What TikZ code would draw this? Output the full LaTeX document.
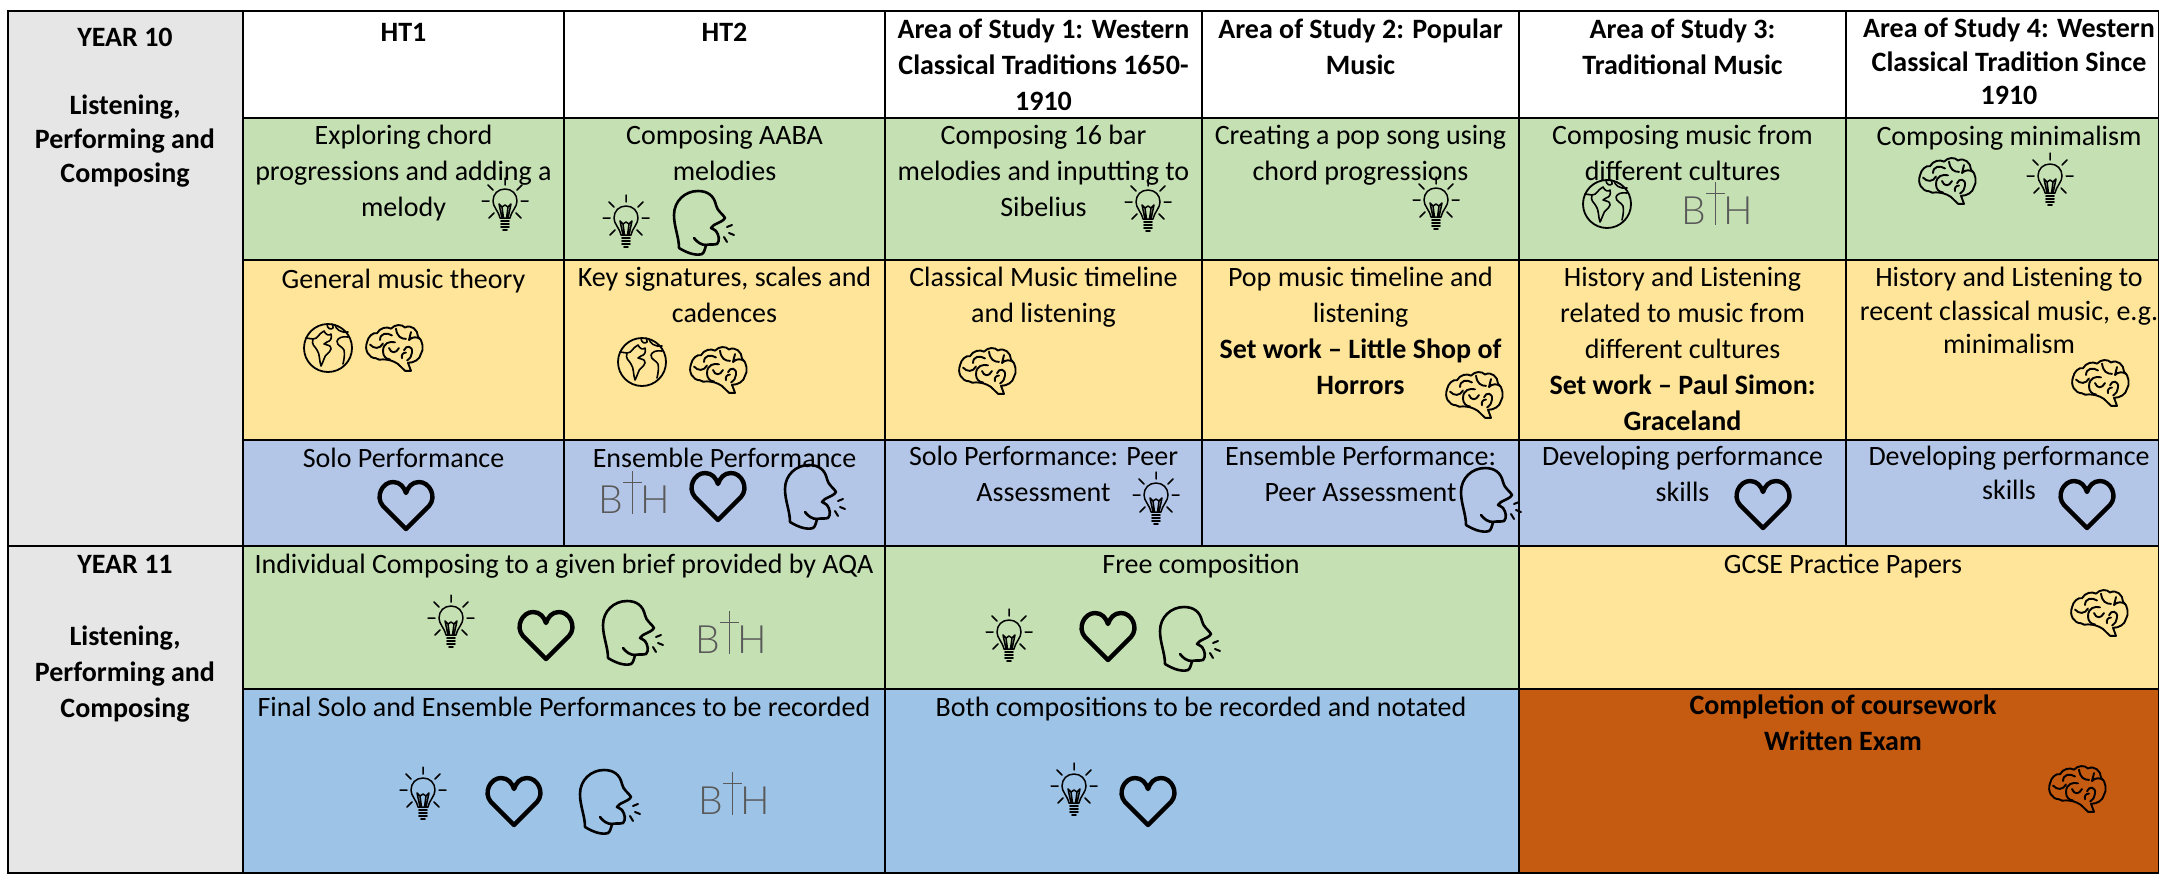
\documentclass[tikz,border=0pt]{standalone}
\usepackage{fontspec}
\setmainfont{Carlito}
\newfontfamily\bthfont{Lato Light}
\definecolor{gridgray}{HTML}{E7E6E6}
\definecolor{cellgreen}{HTML}{C5E0B3}
\definecolor{cellyellow}{HTML}{FFE599}
\definecolor{cellblue}{HTML}{B4C6E7}
\definecolor{cellsky}{HTML}{9DC3E6}
\definecolor{cellorange}{HTML}{C55A11}
\definecolor{logogray}{HTML}{595959}
\tikzset{
  cellbox/.style={draw=black,line width=1.8pt},
  txt/.style={anchor=north,inner sep=0pt,align=center,font=\fontsize{28}{36}\selectfont,execute at begin node={\rule{0pt}{21pt}}},
  txtb/.style={txt,font=\fontsize{28}{36}\selectfont\bfseries},
  tight/.style={txt,font=\fontsize{28}{33.5}\selectfont},
  tightb/.style={txt,font=\fontsize{28}{33.5}\selectfont\bfseries},
  rule/.style={draw=black,line width=2.8pt},
  icon/.style={draw=black,line width=1.5pt,line cap=round,line join=round},
  bulb/.pic={
    \draw[icon] (0,-27)--(0,-20) (-23,-4)--(-16,-4) (16,-4)--(23,-4)
      (-17,-20)--(-12,-15) (17,-20)--(12,-15) (-16,13)--(-11,8) (16,13)--(11,8);
    \draw[icon] (-5,13) .. controls (-7,5) and (-12,2) .. (-12,-4)
      .. controls (-12,-11) and (-7,-16) .. (0,-16)
      .. controls (7,-16) and (12,-11) .. (12,-4)
      .. controls (12,2) and (7,5) .. (5,13) -- cycle;
    \draw[icon] (-6,-1)--(-3,2)--(0,0)--(3,2)--(6,-1)--(3,13) (-6,-1)--(-3,13) (-3,2)--(-1.5,13) (3,2)--(1.5,13);
    \draw[icon,line width=1.8pt] (-4,16)--(4,16) (-4,19)--(4,19) (-4,22)--(4,22) (-2,25)--(2,25);
  },
  heartshape/.pic={
    \draw[icon,line width=4.4pt] (0,24) -- (-23,1) .. controls (-31,-8) and (-24,-23) .. (-13,-23)
      .. controls (-6,-23) and (-2,-18) .. (0,-12)
      .. controls (2,-18) and (6,-23) .. (13,-23)
      .. controls (24,-23) and (31,-8) .. (23,1) -- cycle;
  },
  headshape/.pic={
    \draw[icon,line width=2.6pt] (-26,25) .. controls (-26,14) and (-31,4) .. (-31,-8)
      .. controls (-31,-22) and (-20,-32) .. (-7,-32)
      .. controls (3,-32) and (9,-27) .. (11,-18)
      .. controls (12,-12) and (18,-9) .. (20,-5)
      .. controls (18,-2) and (15,-1) .. (13,0) .. controls (10,1) and (7,3) .. (6,5)
      .. controls (8,6) and (10,7) .. (11,8) .. controls (14,12) and (15,18) .. (12,21)
      .. controls (8,22) and (4,21) .. (1,22) .. controls (0,26) and (-1,30) .. (-3,31)
      .. controls (-9,33) and (-18,30) .. (-26,25);
    \draw[icon,line width=2.6pt] (-11,15) .. controls (-8,19) and (-4,22) .. (1,22);
    \draw[icon,line width=2pt] (22,4)--(27,2) (24,10)--(29,12) (19,14)--(22,19);
  },
  globeshape/.pic={
    \draw[icon,line width=1.8pt] (0,0) circle [radius=24];
    \draw[icon,line width=1.6pt] (-22,-10)--(-15,-9)
      (-15,-9) .. controls (-10,-9) and (-10,-14) .. (-4,-17) .. controls (-2,-13) and (1,-12) .. (3,-14)
      .. controls (4,-10) and (3,-7) .. (-1,-6) -- (-4,-4) .. controls (-1,-2) and (3,-4) .. (3,1)
      .. controls (2,5) and (-3,6) .. (-4,11) .. controls (-5,14) and (-6,16) .. (-7,18)
      .. controls (-9,12) and (-8,6) .. (-11,2) .. controls (-13,-2) and (-17,-3) .. (-15,-9);
    \draw[icon,line width=1.6pt] (-1,-24) .. controls (-1,-19) and (3,-18) .. (5,-20) .. controls (5,-22) and (5,-23) .. (4,-24)
      (7,-23) .. controls (8,-19) and (12,-15) .. (20,-16)
      (20,-11) .. controls (14,-12) and (10,-10) .. (9,-7) .. controls (9,-2) and (14,-2) .. (16,2)
      .. controls (17,6) and (16,12) .. (15,16);
  },
  brainshape/.pic={
    \draw[icon,line width=1.9pt,yscale=1.14] (4,14) .. controls (-1,11) and (-6,10) .. (-11,10) .. controls (-14,11) and (-16,10) .. (-18,9)
      .. controls (-25,9) and (-30,2) .. (-27,-5)
      .. controls (-26,-10) and (-21,-14) .. (-17,-13)
      .. controls (-14,-18) and (-7,-19) .. (-3,-17)
      .. controls (1,-21) and (8,-21) .. (11,-18)
      .. controls (17,-21) and (24,-16) .. (24,-10)
      .. controls (29,-7) and (30,2) .. (27,5)
      .. controls (26,10) and (20,13) .. (14,13)
      -- (17,20) -- (11,20) -- cycle;
    \draw[icon,line width=1.9pt,yscale=1.14] (-24,-3) .. controls (-20,1) and (-14,1) .. (-11,-4)
      (-14,-7) .. controls (-14,-13) and (-7,-14) .. (-2,-11)
      (2,-17) .. controls (3,-10) and (7,-8) .. (12,-8)
      (-11,3) .. controls (-11,-5) and (-4,-6) .. (1,-5)
      (-5,0) .. controls (-3,5) and (2,5) .. (5,0)
      (-11,3) .. controls (-11,7) and (-8,10) .. (-4,10)
      (10,2) .. controls (12,-3) and (19,-2) .. (18,4) .. controls (18,7) and (16,9) .. (13,11)
      (8,9) .. controls (7,6) and (9,4) .. (12,4)
      (15,-7) .. controls (18,-10) and (23,-10) .. (26,-8)
      (17,-14) -- (15,-7);
  },
  bthlogo/.pic={
    \node[inner sep=0pt,text=logogray,font=\fontsize{39}{39}\bthfont] (b) at (-22,7) {B};
    \node[inner sep=0pt,text=logogray,font=\fontsize{39}{39}\bthfont] (h) at (22,7) {H};
    \draw[logogray,line width=1pt] (-1,-22)--(-1,21) (-10,-11)--(9,-11);
  },
}
\newcommand{\cellrect}[5]{\path[cellbox,fill=#5] (#1,#2) rectangle (#3,#4);}
\begin{document}
\begin{tikzpicture}[x=1pt,y=-1pt]
\useasboundingbox (0,0) rectangle (2159,873);
\fill[white] (0,0) rectangle (2159,873);
% ---- side column
\cellrect{8}{11}{243}{546}{gridgray}
\cellrect{8}{546}{243}{873}{gridgray}
% ---- year 10 grid
\foreach \xa/\xb in {243/564,564/885,885/1202,1202/1519,1519/1846,1846/2159}{
  \cellrect{\xa}{11}{\xb}{118}{white}
  \cellrect{\xa}{118}{\xb}{260}{cellgreen}
  \cellrect{\xa}{260}{\xb}{440}{cellyellow}
  \cellrect{\xa}{440}{\xb}{546}{cellblue}
}
% ---- year 11 grid
\cellrect{243}{546}{885}{689}{cellgreen}
\cellrect{885}{546}{1519}{689}{cellgreen}
\cellrect{1519}{546}{2159}{689}{cellyellow}
\cellrect{243}{689}{885}{873}{cellsky}
\cellrect{885}{689}{1519}{873}{cellsky}
\cellrect{1519}{689}{2159}{873}{cellorange}
\draw[rule] (8,11)--(2159,11) (243,118)--(2159,118) (243,260)--(2159,260) (243,440)--(2159,440) (8,546)--(2159,546) (243,689)--(2159,689);
% ---- side labels
\node[txtb,font=\fontsize{28}{34}\selectfont\bfseries] (y10) at (125,28) {YEAR 10\\\rule{0pt}{1pt}\\Listening,\\Performing and\\Composing};
\node[txtb] (y11) at (125,555) {YEAR 11\\\rule{0pt}{1pt}\\Listening,\\Performing and\\Composing};
% ---- headers
\node[txtb] (h1) at (403.5,20) {HT1};
\node[txtb] (h2) at (724.5,20) {HT2};
\node[txtb] (h3) at (1043.5,19) {Area of Study 1: Western\\Classical Traditions 1650-\\1910};
\node[txtb] (h4) at (1360.5,19) {Area of Study 2: Popular\\Music};
\node[txtb] (h5) at (1682.5,19) {Area of Study 3:\\Traditional Music};
\node[tightb] (h6) at (2009,18) {Area of Study 4: Western\\Classical Tradition Since\\1910};
% ---- green row
\node[txt] (g1) at (403.5,125) {Exploring chord\\progressions and adding a\\melody};
\node[txt] (g2) at (724.5,125) {Composing AABA\\melodies};
\node[txt] (g3) at (1043.5,125) {Composing 16 bar\\melodies and inputting to\\Sibelius};
\node[txt] (g4) at (1360.5,125) {Creating a pop song using\\chord progressions};
\node[txt] (g5) at (1682.5,125) {Composing music from\\different cultures};
\node[txt] (g6) at (2009,124) {Composing minimalism};
% ---- yellow row
\node[txt] (m1) at (403.5,267) {General music theory};
\node[txt] (m2) at (724.5,267) {Key signatures, scales and\\cadences};
\node[txt] (m3) at (1043.5,267) {Classical Music timeline\\and listening};
\node[txt] (m4) at (1360.5,267) {Pop music timeline and\\listening\\\textbf{Set work -- Little Shop of}\\\textbf{Horrors}};
\node[txt] (m5) at (1682.5,267) {History and Listening\\related to music from\\different cultures\\\textbf{Set work -- Paul Simon:}\\\textbf{Graceland}};
\node[tight] (m6) at (2009,267) {History and Listening to\\recent classical music, e.g.\\minimalism};
% ---- blue row
\node[txt] (b1) at (403.5,446) {Solo Performance};
\node[txt] (b2) at (724.5,446) {Ensemble Performance};
\node[txt] (b3) at (1043.5,446) {Solo Performance: Peer\\Assessment};
\node[txt] (b4) at (1360.5,446) {Ensemble Performance:\\Peer Assessment};
\node[txt] (b5) at (1682.5,446) {Developing performance\\skills};
\node[tight] (b6) at (2009,446) {Developing performance\\skills};
% ---- year 11
\node[txt] (c1) at (564,552) {Individual Composing to a given brief provided by AQA};
\node[txt] (c2) at (1201,552) {Free composition};
\node[txt] (c3) at (1843,552) {GCSE Practice Papers};
\node[txt] (r1) at (564,695) {Final Solo and Ensemble Performances to be recorded};
\node[txt] (r2) at (1201,695) {Both compositions to be recorded and notated};
\node[txtb] (r3) at (1843,695) {Completion of coursework\\Written Exam};
% ---- icons
\pic (ib1) at (505,205) {bulb};
\pic (ib2) at (626,222) {bulb};
\pic (ib3) at (1148,206) {bulb};
\pic (ib4) at (1436,204) {bulb};
\pic (ib5) at (2050,180) {bulb};
\pic (ib6) at (1156,499) {bulb};
\pic (ib7) at (451,622) {bulb};
\pic (ib8) at (1009,636) {bulb};
\pic (ib9) at (423,794) {bulb};
\pic (ib10) at (1074,790) {bulb};
\pic (ih1) at (406,505) {heartshape};
\pic (ih2) at (718,496) {heartshape};
\pic (ih3) at (1763,504) {heartshape};
\pic (ih4) at (2087,504) {heartshape};
\pic (ih5) at (546,635) {heartshape};
\pic (ih6) at (1108,636) {heartshape};
\pic (ih7) at (514,801) {heartshape};
\pic (ih8) at (1148,801) {heartshape};
\pic (is1) at (705,223) {headshape};
\pic (is2) at (816,497) {headshape};
\pic (is3) at (1492,500) {headshape};
\pic (is4) at (634,633) {headshape};
\pic (is5) at (1191,639) {headshape};
\pic (is6) at (611,802) {headshape};
\pic (ig1) at (328,348) {globeshape};
\pic (ig2) at (642,362) {globeshape};
\pic (ig3) at (1607,204) {globeshape};
\pic (ir1) at (394,348) {brainshape};
\pic (ir2) at (718,370) {brainshape};
\pic (ir3) at (987,371) {brainshape};
\pic (ir4) at (1474,395) {brainshape};
\pic (ir5) at (1947,181) {brainshape};
\pic (ir6) at (2100,383) {brainshape};
\pic (ir7) at (2099,613) {brainshape};
\pic (ir8) at (2077,789) {brainshape};
\pic (il1) at (633,493) {bthlogo};
\pic (il2) at (1716,204) {bthlogo};
\pic (il3) at (730,633) {bthlogo};
\pic (il4) at (733,794) {bthlogo};
\end{tikzpicture}
\end{document}
